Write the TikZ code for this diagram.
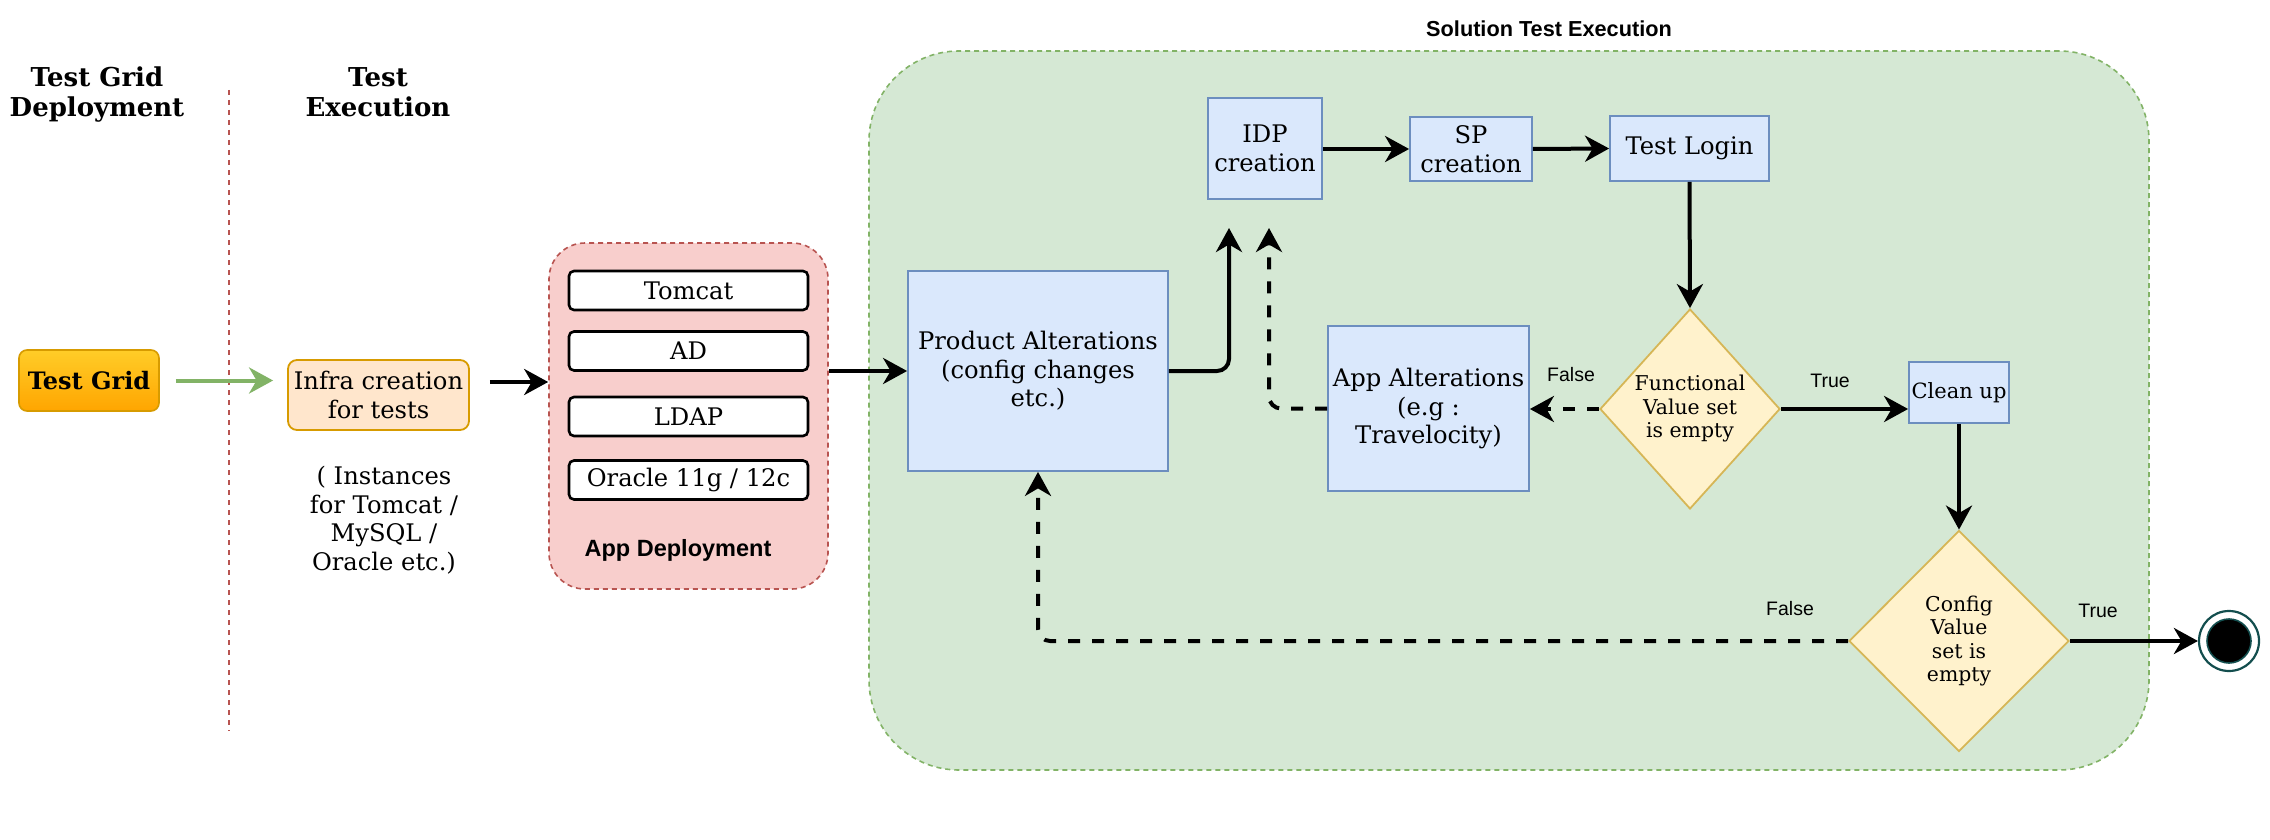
\documentclass[tikz,border=0pt]{standalone}
\usepackage{fontspec}
\setmainfont{DejaVu Serif}
\newfontfamily\lsans{Liberation Sans}
\usetikzlibrary{arrows.meta,shapes.geometric}
\definecolor{bfill}{HTML}{DAE8FC}
\definecolor{bstroke}{HTML}{6C8EBF}
\definecolor{gfill}{HTML}{D5E8D4}
\definecolor{gstroke}{HTML}{82B366}
\definecolor{rfill}{HTML}{F8CECC}
\definecolor{rstroke}{HTML}{B85450}
\definecolor{yfill}{HTML}{FFF2CC}
\definecolor{ystroke}{HTML}{D6B656}
\definecolor{ofill}{HTML}{FFE6CC}
\definecolor{ostroke}{HTML}{D79B00}
\definecolor{gtop}{HTML}{FFCD28}
\definecolor{gbot}{HTML}{FFA500}
\definecolor{endteal}{HTML}{134E4E}
\newcommand\dgmain{\fontsize{24.2}{28.5}\selectfont}
\newcommand\dgsmall{\fontsize{20.4}{23.5}\selectfont}
\newcommand\dglab{\lsans\fontsize{19.5}{23}\selectfont}
\newcommand\dghead{\bfseries\fontsize{26}{30}\selectfont}
\begin{document}
\begin{tikzpicture}[x=1pt,y=-1pt,
  box/.style={draw=bstroke, fill=bfill, line width=1.8pt, inner sep=0pt, align=center, font=\dgmain},
  dec/.style={diamond, draw=ystroke, fill=yfill, line width=1.8pt, inner sep=0pt, align=center, font=\dgsmall},
  item/.style={draw=black, fill=white, line width=2.6pt, rounded corners=5pt, minimum width=239pt, minimum height=39pt, inner sep=0pt, font=\dgmain},
  conn/.style={line width=4pt, -{Stealth[length=24pt,width=26pt,inset=7.5pt]}},
  dsh/.style={dash pattern=on 12pt off 12pt},
  lbl/.style={font=\dglab, inner sep=0pt}
]
\useasboundingbox[fill=white] (0,0) rectangle (2270,840);

% headers
\node[font=\dghead, align=center] (h1) at (97,95) {Test Grid\\Deployment};
\node[font=\dghead, align=center] (h2) at (378,92) {Test\\Execution};
\coordinate (sepT) at (229,90);
\coordinate (sepB) at (229,731);
\draw[rstroke, line width=1.6pt, dash pattern=on 5pt off 5pt] (sepT) -- (sepB);

% containers
\node[draw=gstroke, fill=gfill, line width=1.6pt, dash pattern=on 5pt off 4pt, rounded corners=90pt,
  minimum width=1280pt, minimum height=719pt, inner sep=0pt] (sol) at (1509,410.5) {};
\node[font=\lsans\bfseries\fontsize{21.7}{26}\selectfont] (solt) at (1549,29) {Solution Test Execution};
\node[draw=rstroke, fill=rfill, line width=1.6pt, dash pattern=on 5pt off 4pt, rounded corners=36pt,
  minimum width=279pt, minimum height=346pt, inner sep=0pt] (app) at (688.5,416) {};
\node[font=\lsans\bfseries\fontsize{23.5}{28}\selectfont] (appt) at (678,550) {App Deployment};

% left nodes
\node[draw=ostroke, top color=gtop, bottom color=gbot, line width=1.6pt, rounded corners=8pt,
  minimum width=140pt, minimum height=61pt, inner sep=0pt, font=\bfseries\fontsize{24}{28}\selectfont] (tg) at (89,380.5) {Test Grid};
\node[draw=ostroke, fill=ofill, line width=1.8pt, rounded corners=9pt, minimum width=181pt, minimum height=70pt,
  inner sep=0pt, align=center, font=\dgmain] (infra) at (378.5,395) {Infra creation\\for tests};
\node[align=center, font=\dgmain] (inst) at (384,520) {( Instances\\for Tomcat /\\MySQL /\\Oracle etc.)};

\node[item] (tomcat) at (688.5,290.5) {Tomcat};
\node[item] (ad) at (688.5,351) {AD};
\node[item] (ldap) at (688.5,416.5) {LDAP};
\node[item] (oracle) at (688.5,480) {Oracle 11g / 12c};

% solution nodes
\node[box, minimum width=260pt, minimum height=200pt] (pa) at (1038,371) {Product Alterations\\(config changes\\etc.)};
\node[box, minimum width=114pt, minimum height=101pt] (idp) at (1265,148.5) {IDP\\creation};
\node[box, minimum width=122pt, minimum height=64pt] (sp) at (1471,149) {SP\\creation};
\node[box, minimum width=159pt, minimum height=65pt] (tl) at (1689.5,148.5) {Test Login};
\node[box, minimum width=201pt, minimum height=165pt] (aa) at (1428.5,408.5) {App Alterations\\(e.g :\\Travelocity)};
\node[dec, minimum width=180pt, minimum height=200pt] (func) at (1690,409) {Functional\\Value set\\ is empty};
\node[box, minimum width=100pt, minimum height=61pt, font=\fontsize{21}{25}\selectfont] (cu) at (1959,392.5) {Clean up};
\node[dec, minimum width=220pt, minimum height=221pt] (cfg) at (1959,641) {Config\\Value\\set is\\ empty};
\node[circle, draw=endteal, fill=white, line width=2.2pt, minimum size=60pt, inner sep=0pt] (end) at (2229,641) {};
\node[circle, draw=endteal, fill=black, line width=1.6pt, minimum size=44pt, inner sep=0pt] (endin) at (2229,641) {};

% labels
\node[lbl] (lf1) at (1571,375) {False};
\node[lbl] (lt1) at (1830,381) {True};
\node[lbl] (lf2) at (1790,609) {False};
\node[lbl] (lt2) at (2098,611) {True};

% connectors
\draw[conn, gstroke, shorten <=16pt, shorten >=14pt] (tg.east) -- (tg.east -| infra.west);
\draw[conn, shorten <=20pt] (infra.east |- 0,382) -- (app.west |- 0,382);
\draw[conn] (app.east |- pa.west) -- (pa.west);
\coordinate (up1) at (1229,228);
\coordinate (up2) at (1269,228);
\draw[conn, rounded corners=12pt] (pa.east) -| (up1);
\draw[conn, dsh, rounded corners=12pt] (aa.west) -| (up2);
\draw[conn] (idp.east |- sp.west) -- (sp.west);
\draw[conn] (sp.east) -- (tl.west);
\draw[conn] (tl.south) -- (func.north);
\draw[conn, dsh] (func.west) -- (aa.east |- func.west);
\draw[conn] (func.east) -- (func.east -| cu.west);
\draw[conn] (cu.south) -- (cfg.north);
\draw[conn] (cfg.east) -- (end.west);
\draw[conn, dsh, rounded corners=12pt] (cfg.west) -| (pa.south);
\end{tikzpicture}
\end{document}
